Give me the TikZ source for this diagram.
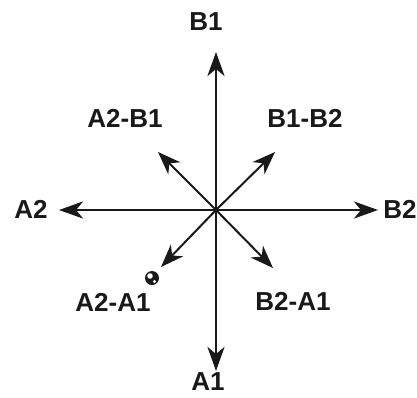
\documentclass[tikz,border=0pt]{standalone}
\usepackage{fontspec}
\setmainfont{Liberation Sans}
\usetikzlibrary{arrows.meta, positioning}

\begin{document}
\begin{tikzpicture}[
  x=1pt, y=-1pt,
  font=\fontsize{26}{30}\selectfont\bfseries,
  axis/.style={-{Stealth[length=24pt, width=17pt, inset=7pt]}, line width=2.8pt, black!90},
  diag/.style={-{Stealth[length=23pt, width=17pt, inset=7pt]}, line width=2pt, black!90},
  lbl/.style={inner sep=0pt, text=black!90},
]
\useasboundingbox (0,0) rectangle (417,397);
\coordinate (o) at (216,210);
% axis tips
\coordinate (up) at (216,52);
\coordinate (dn) at (216,371);
\coordinate (lt) at (59,210);
\coordinate (rt) at (378,210);
% diagonal tips
\coordinate (ul) at (158,152);
\coordinate (ur) at (275,152);
\coordinate (ll) at (161,267);
\coordinate (lr) at (273,268);
\draw[axis] (o) -- (up);
\draw[axis] (o) -- (dn);
\draw[axis] (o) -- (lt);
\draw[axis] (o) -- (rt);
\draw[diag] (o) -- (ul);
\draw[diag] (o) -- (ur);
\draw[diag] (o) -- (ll);
\draw[diag] (o) -- (lr);
% labels
\node[lbl] (b1) at (206,22) {B1};
\node[lbl] (a1) at (208,382) {A1};
\node[lbl] (a2) at (31,209) {A2};
\node[lbl] (b2) at (400,209) {B2};
\node[lbl] (a2b1) at (125,118) {A2-B1};
\node[lbl] (b1b2) at (305,118) {B1-B2};
\node[lbl] (a2a1) at (113,302) {A2-A1};
\node[lbl] (b2a1) at (293,301) {B2-A1};
% small marker
\fill[black!90] (152,278) circle (7);
\fill[white] (150,276) circle (2.8);
\fill[white] (154.5,281.5) circle (1.7);
\end{tikzpicture}
\end{document}
